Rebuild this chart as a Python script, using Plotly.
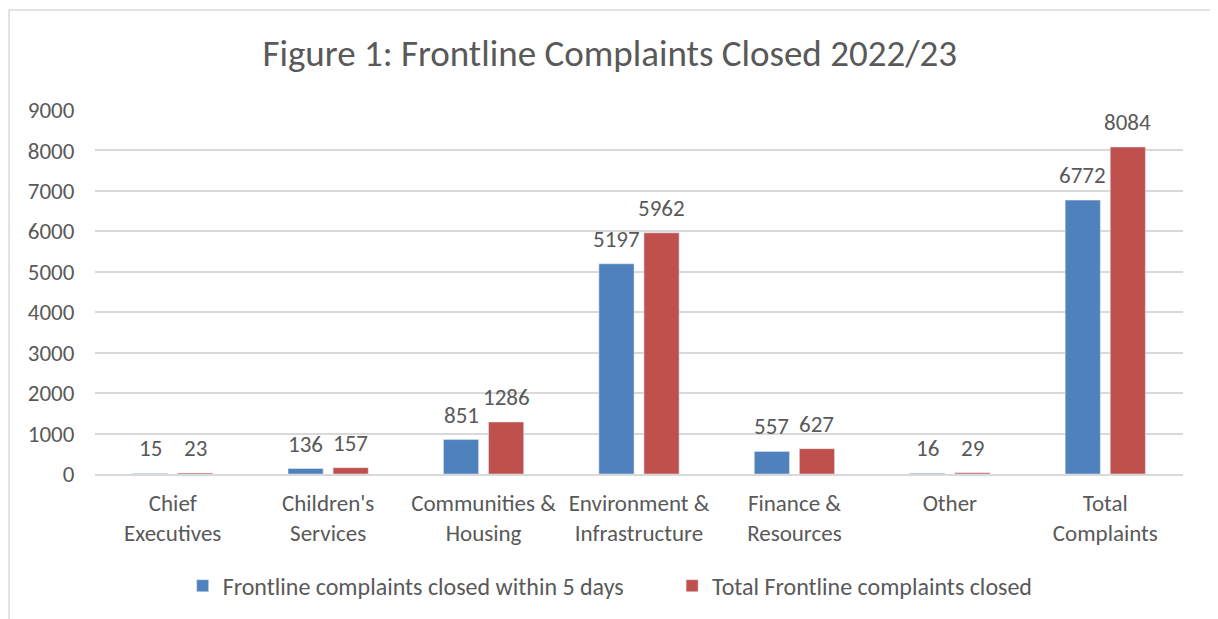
import plotly.graph_objects as go

categories = ["Chief<br>Executives", "Children's<br>Services", "Communities &<br>Housing",
              "Environment &<br>Infrastructure", "Finance &<br>Resources", "Other", "Total<br>Complaints"]
within_5_days = [15, 136, 851, 5197, 557, 16, 6772]
total_closed = [23, 157, 1286, 5962, 627, 29, 8084]

font_family = "Carlito, Calibri, Lato, sans-serif"
grey = "#595959"

fig = go.Figure()
# trailing nbsp pads the gap between the two legend entries
fig.add_trace(go.Bar(x=categories, y=within_5_days,
                     name="Frontline complaints closed within 5 days" + "\u00a0" * 8,
                     marker_color="#4F81BD"))
fig.add_trace(go.Bar(x=categories, y=total_closed, name="Total Frontline complaints closed",
                     marker_color="#C0504D"))

# data labels sit a little above each bar, like the Excel original
for cat, a, b in zip(categories, within_5_days, total_closed):
    for val, shift in ((a, -22.5), (b, 22.5)):
        fig.add_annotation(x=cat, y=val, text=str(val), showarrow=False, xshift=shift, yshift=25,
                           yanchor="middle", font=dict(size=23, color=grey))

fig.update_layout(
    width=1218, height=619,
    paper_bgcolor="white", plot_bgcolor="white",
    font=dict(family=font_family, color=grey, size=23),
    title=dict(text="Figure 1: Frontline Complaints Closed 2022/23", x=0.494, xanchor="center",
               y=0.927, yanchor="middle", font=dict(size=37, color=grey)),
    margin=dict(l=87, r=43, t=102, b=153),
    barmode="group", bargap=0.42, bargroupgap=0.22,
    legend=dict(orientation="h", x=0.4735, xanchor="center", y=-0.308, yanchor="middle",
                font=dict(size=24, color=grey), itemwidth=30),
    xaxis=dict(showline=True, linecolor="#D9D9D9", linewidth=1.5, ticks="",
               ticklabelstandoff=8, tickfont=dict(size=23, color=grey)),
    yaxis=dict(range=[0, 9000], dtick=1000, showgrid=True, gridcolor="#D9D9D9", gridwidth=1.5,
               zeroline=False, ticks="outside", ticklen=15, tickcolor="white",
               tickfont=dict(size=23, color=grey)),
)

fig.add_shape(type="rect", xref="paper", yref="paper", x0=-0.079, x1=1.0267, y0=-0.45, y1=1.2747,
              line=dict(color="#D9D9D9", width=1.5), fillcolor="rgba(0,0,0,0)", layer="below")

fig.write_html("out.html")
